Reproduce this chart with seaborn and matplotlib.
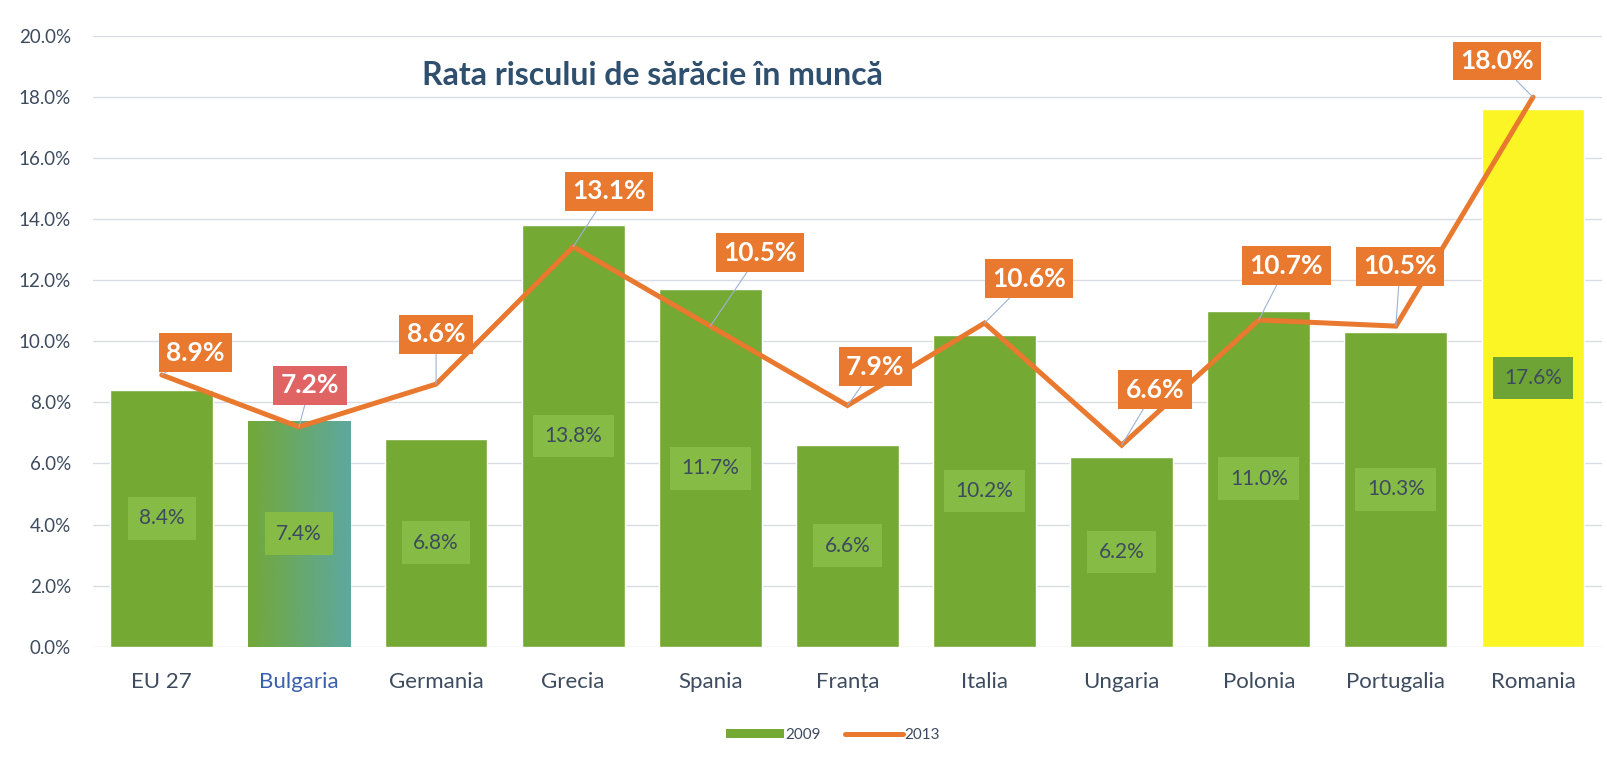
import numpy as np
import pandas as pd
import matplotlib
matplotlib.use("Agg")
import matplotlib.pyplot as plt
from matplotlib.patches import Patch
from matplotlib.lines import Line2D
from matplotlib.colors import LinearSegmentedColormap
import seaborn as sns

# data
countries = ["EU 27", "Bulgaria", "Germania", "Grecia", "Spania", "Franța",
             "Italia", "Ungaria", "Polonia", "Portugalia", "Romania"]
rate_2009 = [8.4, 7.4, 6.8, 13.8, 11.7, 6.6, 10.2, 6.2, 11.0, 10.3, 17.6]
rate_2013 = [8.9, 7.2, 8.6, 13.1, 10.5, 7.9, 10.6, 6.6, 10.7, 10.5, 18.0]

# where each 2013 label box sits relative to its point (points)
label_offsets = [(24, 16), (8, 30), (0, 36), (26, 40), (36, 53), (20, 28),
                 (32, 32), (24, 40), (20, 39), (3, 43), (-26, 26)]

df = pd.DataFrame({"country": countries, "y2009": rate_2009, "y2013": rate_2013})

green = "#74a934"
orange = "#e8792e"
text_col = "#3d4b5f"

sns.set_theme(style="white")
plt.rcParams["font.family"] = ["Lato", "DejaVu Sans"]

fig = plt.figure(figsize=(16.08, 7.68), dpi=100)
ax = fig.add_axes([0.058, 0.158, 0.938, 0.795])

bar_colors = [green] * len(countries)
bar_colors[-1] = "#fbf526"
sns.barplot(data=df, x="country", y="y2009", hue="country", palette=bar_colors,
            legend=False, width=0.75, saturation=1, ax=ax, zorder=2)

# Bulgaria bar has a green-to-teal gradient
bulg = ax.patches[1]
x0, w, h = bulg.get_x(), bulg.get_width(), bulg.get_height()
grad = np.linspace(0, 1, 256).reshape(1, -1)
cmap = LinearSegmentedColormap.from_list("g", ["#72a838", "#5da8a0"])
im = ax.imshow(grad, extent=[x0, x0 + w, 0, h], aspect="auto", cmap=cmap, zorder=2.5)
im.set_clip_path(bulg)

# inner labels for 2009
for i, v in enumerate(rate_2009):
    box = "#6ea336" if i == len(countries) - 1 else "#86bb45"
    ax.text(i, v / 2, f"{v:.1f}%", ha="center", va="center", fontsize=15,
            color=text_col, zorder=4,
            bbox=dict(boxstyle="square,pad=0.55", fc=box, ec="none"))

# 2013 line
pos = np.arange(len(countries))
sns.lineplot(x=pos, y=rate_2013, color=orange, linewidth=3.6, ax=ax, zorder=3,
             solid_joinstyle="miter")

for i, v in enumerate(rate_2013):
    fc = "#e06464" if i == 1 else orange
    ax.annotate(f"{v:.1f}%", xy=(i, v), xytext=label_offsets[i],
                textcoords="offset points", ha="center", va="center",
                fontsize=19, fontweight="bold", color="white", zorder=5,
                bbox=dict(boxstyle="square,pad=0.28", fc=fc, ec="none"),
                arrowprops=dict(arrowstyle="-", color="#9db3d6", lw=0.8,
                                shrinkA=0, shrinkB=0))

ax.set_ylim(0, 20)
ax.set_xlim(-0.5, len(countries) - 0.5)
ax.set_yticks(np.arange(0, 21, 2))
ax.set_yticklabels([f"{t:.1f}%" for t in np.arange(0, 21, 2)])
ax.yaxis.grid(True, color="#d9dde3", linewidth=1)
ax.set_axisbelow(True)
ax.set_xlabel("")
ax.set_ylabel("")
ax.tick_params(axis="y", labelsize=13.5, labelcolor=text_col, pad=16, length=0)
ax.tick_params(axis="x", labelsize=16, labelcolor=text_col, pad=18, length=0)
ax.get_xticklabels()[1].set_color("#3a5fae")
sns.despine(ax=ax, left=True, bottom=True)

ax.text(0.371, 0.936, "Rata riscului de sărăcie în muncă", transform=ax.transAxes,
        ha="center", va="center", fontsize=23, fontweight="bold", color="#2f4f6e")

handles = [Patch(fc=green, ec="none"), Line2D([], [], color=orange, lw=3.6)]
fig.legend(handles, ["2009", "2013"], loc="center", bbox_to_anchor=(0.518, 0.043),
           ncol=2, frameon=False, fontsize=11, handlelength=3.8, handleheight=0.6,
           columnspacing=1.6, handletextpad=0.1, labelcolor=text_col)

fig.savefig("out.png", dpi=100)
